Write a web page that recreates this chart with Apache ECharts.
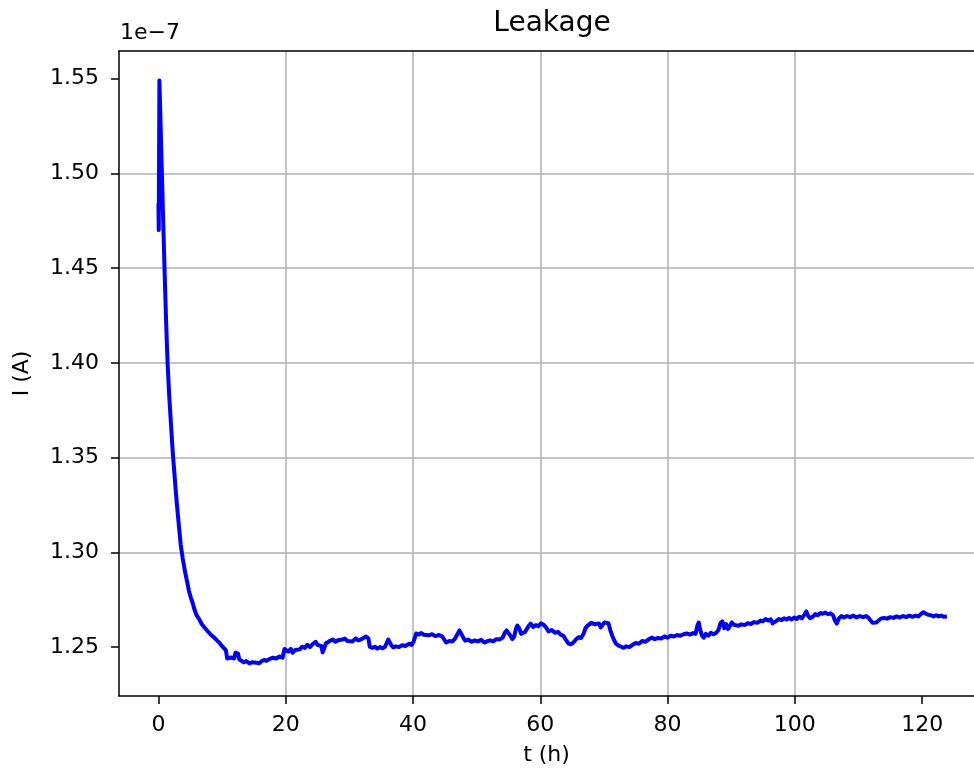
<!DOCTYPE html>
<html>
<head>
<meta charset="utf-8">
<script src="https://cdn.jsdelivr.net/npm/echarts@6/dist/echarts.min.js"></script>
<style>
  html, body { margin: 0; padding: 0; background: #ffffff; }
  #chart { width: 974px; height: 771px; }
</style>
</head>
<body>
<div id="chart"></div>
<script>
// Elapsed time (hours)
const tHours = [
  0, 0.05, 0.15, 0.5, 0.9, 1.2, 1.43, 1.7, 1.96, 2.22, 2.5, 2.75, 3.1, 3.5, 3.8, 4.16, 4.6, 4.8, 5.1, 5.4,
  5.6, 5.9, 6.15, 6.4, 6.8, 7.2, 7.7, 8.25, 8.7, 9.2, 9.6,
  10.0, 10.3, 10.6, 10.8, 11.1, 11.4, 11.7, 11.9, 12.1, 12.3, 12.5, 12.7, 13.0, 13.4, 13.8, 14.3, 14.7, 15.0, 15.4, 15.8,
  16.2, 16.6, 17.0, 17.5, 18.0, 18.5, 19.0, 19.5, 19.8, 20.1, 20.4, 20.8, 21.1, 21.5, 21.8, 22.2, 22.6, 23.0, 23.4, 23.8,
  24.2, 24.7, 25.0, 25.3, 25.6, 25.8, 26.0, 26.3, 26.8, 27.4, 27.8, 28.2, 28.5, 28.9, 29.3, 29.7, 30.0, 30.5, 31.0, 31.4,
  31.8, 32.2, 32.6, 33.0, 33.2, 33.6, 34.0, 34.4, 34.8, 35.2, 35.6, 35.9, 36.1, 36.4, 36.6, 36.9, 37.3, 37.8, 38.3, 38.8,
  39.4, 39.8, 40.1, 40.5, 40.9, 41.3, 41.7, 42.0, 42.5, 43.0, 43.5, 44.1, 44.6, 44.9, 45.2, 45.7, 46.2, 46.6, 47.0, 47.3,
  47.6, 47.9, 48.2, 48.7, 49.2, 49.7, 50.2, 50.7, 51.2, 51.6, 52.1, 52.6, 53.1, 53.6, 54.1, 54.4, 54.7, 55.0, 55.3, 55.6,
  55.9, 56.2, 56.4, 56.7, 57.0, 57.3, 57.6, 57.9, 58.2, 58.5, 58.9, 59.3, 59.7, 60.1, 60.5, 60.9, 61.3, 61.8, 62.3, 62.8,
  63.2, 63.6, 64.0, 64.4, 64.8, 65.2, 65.6, 66.0, 66.4, 66.8, 67.1, 67.4, 67.7, 68.0, 68.3, 68.6, 68.9, 69.2, 69.5, 69.8,
  70.1, 70.4, 70.7, 71.0, 71.3, 71.6, 71.9, 72.3, 72.7, 73.1, 73.5, 74.0, 74.5, 75.0, 75.5, 76.0, 76.5, 77.0, 77.5, 78.0,
  78.5, 79.0, 79.5, 80.0, 80.5, 81.0, 81.5, 82.0, 82.5, 83.0, 83.5, 84.0, 84.4, 84.7, 84.9, 85.1, 85.4, 85.7, 86.0, 86.4,
  86.8, 87.2, 87.6, 88.0, 88.3, 88.6, 88.9, 89.2, 89.5, 89.8, 90.1, 90.4, 90.7, 91.1, 91.6, 92.1, 92.6, 93.1, 93.6, 94.1,
  94.6, 95.0, 95.4, 95.8, 96.2, 96.5, 96.8, 97.1, 97.5, 97.9, 98.3, 98.7, 99.1, 99.5, 99.9, 100.3, 100.7, 101.1, 101.5, 101.8,
  102.1, 102.4, 102.8, 103.2, 103.6, 104.0, 104.4, 104.8, 105.2, 105.6, 106.0, 106.3, 106.6, 106.9, 107.3, 107.7, 108.2, 108.7, 109.2, 109.7,
  110.2, 110.7, 111.2, 111.6, 111.9, 112.2, 112.5, 112.8, 113.1, 113.5, 114.0, 114.5, 115.0, 115.5, 116.0, 116.5, 117.0, 117.5, 118.0, 118.5,
  119.0, 119.4, 119.8, 120.2, 120.6, 121.0, 121.4, 121.8, 122.2, 122.6, 123.0, 123.4, 123.9
];

// Leakage current, in units of 1e-7 A
const leakage = [
  1.484, 1.470, 1.549, 1.505, 1.456, 1.422, 1.400, 1.382, 1.368, 1.354, 1.342, 1.331, 1.318, 1.304, 1.297, 1.290, 1.283, 1.2795, 1.276, 1.273,
  1.2705, 1.2675, 1.266, 1.2648, 1.2622, 1.2605, 1.2585, 1.2565, 1.2552, 1.2535, 1.2522,
  1.2505, 1.2512, 1.2483, 1.2440, 1.2432, 1.2445, 1.2436, 1.2440, 1.2470, 1.2478, 1.2466, 1.2435, 1.2428, 1.2420, 1.2426, 1.2414, 1.2420, 1.2410, 1.2418, 1.2414,
  1.2425, 1.2432, 1.2428, 1.2438, 1.2444, 1.2440, 1.2450, 1.2444, 1.2490, 1.2482, 1.2476, 1.2490, 1.2470, 1.2485, 1.2495, 1.2488, 1.2502, 1.2496, 1.2512, 1.2500,
  1.2515, 1.2528, 1.2512, 1.2520, 1.2505, 1.2472, 1.2490, 1.2520, 1.2530, 1.2540, 1.2528, 1.2536, 1.2526, 1.2540, 1.2545, 1.2532, 1.2538, 1.2530, 1.2546, 1.2535,
  1.2540, 1.2548, 1.2556, 1.2545, 1.2502, 1.2496, 1.2502, 1.2492, 1.2500, 1.2494, 1.2502, 1.2508, 1.2540, 1.2546, 1.2510, 1.2498, 1.2504, 1.2500, 1.2510, 1.2506,
  1.2518, 1.2512, 1.2530, 1.2572, 1.2566, 1.2574, 1.2565, 1.2572, 1.2562, 1.2568, 1.2558, 1.2564, 1.2556, 1.2540, 1.2524, 1.2532, 1.2530, 1.2545, 1.2570, 1.2588,
  1.2580, 1.2550, 1.2534, 1.2540, 1.2528, 1.2535, 1.2530, 1.2538, 1.2524, 1.2530, 1.2536, 1.2530, 1.2542, 1.2540, 1.2550, 1.2575, 1.2588, 1.2582, 1.2560, 1.2542,
  1.2556, 1.2600, 1.2614, 1.2598, 1.2570, 1.2560, 1.2580, 1.2596, 1.2612, 1.2624, 1.2606, 1.2616, 1.2610, 1.2626, 1.2618, 1.2604, 1.2582, 1.2590, 1.2576, 1.2580,
  1.2566, 1.2560, 1.2540, 1.2520, 1.2515, 1.2524, 1.2540, 1.2552, 1.2548, 1.2570, 1.2600, 1.2612, 1.2606, 1.2628, 1.2634, 1.2620, 1.2612, 1.2625, 1.2604, 1.2618,
  1.2630, 1.2620, 1.2626, 1.2590, 1.2560, 1.2536, 1.2518, 1.2508, 1.2502, 1.2496, 1.2504, 1.2500, 1.2512, 1.2522, 1.2518, 1.2532, 1.2528, 1.2540, 1.2550, 1.2542,
  1.2548, 1.2545, 1.2556, 1.2550, 1.2560, 1.2556, 1.2564, 1.2560, 1.2568, 1.2572, 1.2566, 1.2574, 1.2570, 1.2615, 1.2630, 1.2595, 1.2562, 1.2550, 1.2570, 1.2560,
  1.2575, 1.2568, 1.2574, 1.2590, 1.2625, 1.2636, 1.2600, 1.2622, 1.2596, 1.2612, 1.2630, 1.2618, 1.2626, 1.2612, 1.2620, 1.2616, 1.2626, 1.2622, 1.2632, 1.2628,
  1.2640, 1.2636, 1.2648, 1.2640, 1.2646, 1.2625, 1.2616, 1.2638, 1.2648, 1.2642, 1.2652, 1.2646, 1.2654, 1.2646, 1.2656, 1.2648, 1.2660, 1.2652, 1.2672, 1.2688,
  1.2664, 1.2652, 1.2660, 1.2674, 1.2668, 1.2680, 1.2676, 1.2682, 1.2674, 1.2678, 1.2668, 1.2640, 1.2624, 1.2650, 1.2664, 1.2656, 1.2664, 1.2658, 1.2666, 1.2656,
  1.2664, 1.2658, 1.2664, 1.2654, 1.2640, 1.2628, 1.2622, 1.2630, 1.2640, 1.2650, 1.2654, 1.2650, 1.2658, 1.2654, 1.2662, 1.2656, 1.2664, 1.2658, 1.2666, 1.2660,
  1.2666, 1.2662, 1.2674, 1.2684, 1.2676, 1.2670, 1.2668, 1.2662, 1.2668, 1.2662, 1.2666, 1.2660, 1.2662
];

// Tick positions
const xTicks = [0, 20, 40, 60, 80, 100, 120];
const yTicks = [1.25, 1.30, 1.35, 1.40, 1.45, 1.50, 1.55];

const FONT = 'DejaVu Sans';
const X_MIN = -6.2, X_MAX = 128.15;
const Y_MIN = 1.2242, Y_MAX = 1.5645;

const points = tHours.map((t, i) => [t, leakage[i]]);

const chart = echarts.init(document.getElementById('chart'), null, { renderer: 'canvas' });

const baseX = {
  type: 'value',
  min: X_MIN,
  max: X_MAX,
  splitNumber: 7
};

chart.setOption({
  animation: false,
  backgroundColor: '#ffffff',
  grid: { left: 119, top: 51, right: 0, bottom: 74, containLabel: false },
  graphic: [
    {
      type: 'text', x: 552, y: 24,
      style: { text: 'Leakage', font: '28px "DejaVu Sans"', fill: '#000000', textAlign: 'center', textVerticalAlign: 'middle' }
    },
    {
      type: 'text', x: 120, y: 33,
      style: { text: '1e\u22127', font: '22px "DejaVu Sans"', fill: '#000000', textAlign: 'left', textVerticalAlign: 'middle' }
    }
  ],
  xAxis: [
    Object.assign({}, baseX, {
      position: 'bottom',
      name: 't (h)',
      nameLocation: 'middle',
      nameGap: 48,
      nameTextStyle: { fontFamily: FONT, fontSize: 22, color: '#000000' },
      axisLine: { show: true, onZero: false, lineStyle: { color: '#000000', width: 1.5 } },
      axisTick: { show: true, length: 8, lineStyle: { color: '#000000', width: 1.5 }, customValues: xTicks },
      axisLabel: { show: true, margin: 18, fontFamily: FONT, fontSize: 22, color: '#000000', customValues: xTicks,
                   formatter: v => String(v) },
      splitLine: { show: true, showMinLine: false, showMaxLine: false, lineStyle: { color: '#b0b0b0', width: 1.5 } }
    }),
    Object.assign({}, baseX, {
      position: 'top',
      axisLine: { show: true, onZero: false, lineStyle: { color: '#000000', width: 1.5 } },
      axisTick: { show: false },
      axisLabel: { show: false },
      splitLine: { show: false }
    })
  ],
  yAxis: {
    type: 'value',
    min: Y_MIN,
    max: Y_MAX,
    splitNumber: 7,
    name: 'I (A)',
    nameLocation: 'middle',
    nameGap: 86,
    nameTextStyle: { fontFamily: FONT, fontSize: 22, color: '#000000' },
    axisLine: { show: true, onZero: false, lineStyle: { color: '#000000', width: 1.5 } },
    axisTick: { show: true, length: 8, lineStyle: { color: '#000000', width: 1.5 }, customValues: yTicks },
    axisLabel: { show: true, margin: 20, fontFamily: FONT, fontSize: 22, color: '#000000', customValues: yTicks,
                 formatter: v => v.toFixed(2) },
    splitLine: { show: true, showMinLine: false, showMaxLine: false, lineStyle: { color: '#b0b0b0', width: 1.5 } }
  },
  series: [
    {
      type: 'line',
      xAxisIndex: 0,
      data: points,
      showSymbol: false,
      clip: true,
      lineStyle: { color: '#0000ff', width: 4, join: 'round' },
      itemStyle: { color: '#0000ff' }
    }
  ]
});
</script>
</body>
</html>
